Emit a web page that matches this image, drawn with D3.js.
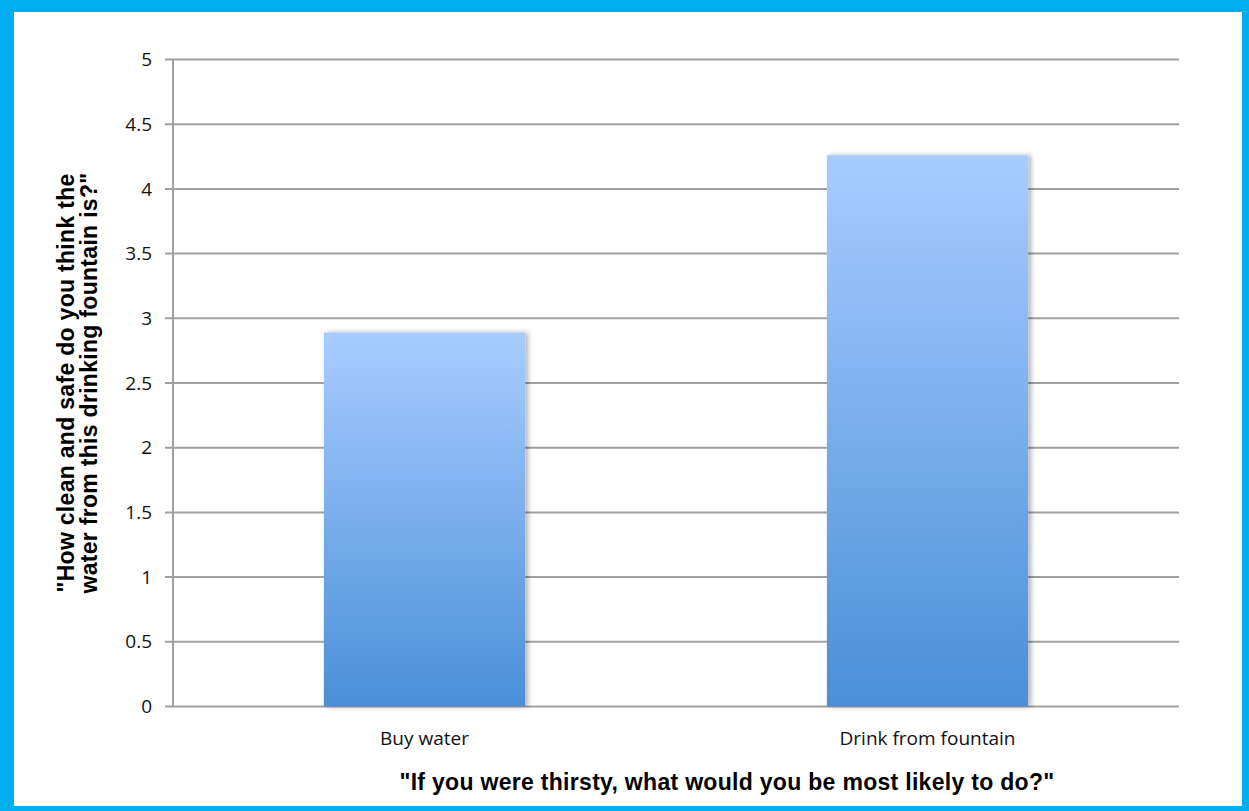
<!DOCTYPE html>
<html>
<head>
<meta charset="utf-8">
<script src="https://cdn.jsdelivr.net/npm/d3@7"></script>
<style>
  html, body { margin: 0; padding: 0; background: #00aeef; }
  svg { display: block; }
</style>
</head>
<body>
<div id="chart"></div>
<script>
// data
const categories = ['Buy water', 'Drink from fountain'];
const values = [2.89, 4.26];
const yTicks = [0, 0.5, 1, 1.5, 2, 2.5, 3, 3.5, 4, 4.5, 5];
const xTitle = '"If you were thirsty, what would you be most likely to do?"';
const yTitleLines = ['"How clean and safe do you think the', 'water from this drinking fountain is?"'];

const width = 1249, height = 811;
const margin = { left: 173, right: 70, top: 59.5, bottom: 104.5 };

const svg = d3.select('#chart')
  .append('svg')
  .attr('width', width)
  .attr('height', height);

// blue frame + white panel
svg.append('rect').attr('width', width).attr('height', height).attr('fill', '#00aeef');
svg.append('rect')
  .attr('x', 14).attr('y', 12)
  .attr('width', 1242 - 14).attr('height', 806 - 12)
  .attr('fill', '#fff');

const defs = svg.append('defs');
const grad = defs.append('linearGradient')
  .attr('id', 'barGrad')
  .attr('x1', 0).attr('y1', 0).attr('x2', 0).attr('y2', 1);
grad.append('stop').attr('offset', '0%').attr('stop-color', '#a9ccff');
grad.append('stop').attr('offset', '100%').attr('stop-color', '#4a8fd7');

const shadow = defs.append('filter')
  .attr('id', 'shadow')
  .attr('x', '-10%').attr('y', '-10%').attr('width', '130%').attr('height', '120%');
shadow.append('feDropShadow')
  .attr('dx', 3).attr('dy', 0)
  .attr('stdDeviation', 2.5)
  .attr('flood-color', '#000')
  .attr('flood-opacity', 0.3);

const x = d3.scaleBand()
  .domain(categories)
  .range([margin.left, width - margin.right])
  .paddingInner(0.6)
  .paddingOuter(0.3);

const y = d3.scaleLinear()
  .domain([0, 5])
  .range([height - margin.bottom, margin.top]);

// grid lines with tick stubs
svg.append('g')
  .selectAll('line')
  .data(yTicks)
  .enter()
  .append('line')
  .attr('x1', margin.left - 8)
  .attr('x2', width - margin.right)
  .attr('y1', d => y(d))
  .attr('y2', d => y(d))
  .attr('stroke', '#a0a0a0')
  .attr('stroke-width', 2);

// y axis line
svg.append('line')
  .attr('x1', margin.left).attr('x2', margin.left)
  .attr('y1', y(5)).attr('y2', y(0))
  .attr('stroke', '#a0a0a0')
  .attr('stroke-width', 2);

// tick labels
svg.append('g')
  .selectAll('text')
  .data(yTicks)
  .enter()
  .append('text')
  .attr('x', margin.left - 21)
  .attr('y', d => y(d))
  .attr('dy', '0.35em')
  .attr('text-anchor', 'end')
  .style('font-family', '"Open Sans", sans-serif')
  .style('font-size', '19px')
  .style('fill', '#111')
  .text(d => d);

// bars
svg.append('g')
  .selectAll('rect')
  .data(values)
  .enter()
  .append('rect')
  .attr('x', (d, i) => x(categories[i]))
  .attr('y', d => y(d))
  .attr('width', x.bandwidth())
  .attr('height', d => y(0) - y(d))
  .attr('fill', 'url(#barGrad)')
  .attr('filter', 'url(#shadow)');

// category labels
svg.append('g')
  .selectAll('text')
  .data(categories)
  .enter()
  .append('text')
  .attr('x', d => x(d) + x.bandwidth() / 2)
  .attr('y', 745)
  .attr('text-anchor', 'middle')
  .style('font-family', '"Open Sans", sans-serif')
  .style('font-size', '19px')
  .style('fill', '#111')
  .text(d => d);

// x title
svg.append('text')
  .attr('x', 727)
  .attr('y', 790)
  .attr('text-anchor', 'middle')
  .style('font-family', '"Liberation Sans", Arial, sans-serif')
  .style('font-weight', 'bold')
  .style('font-size', '23px')
  .style('letter-spacing', '0.3px')
  .style('fill', '#000')
  .text(xTitle);

// y title, two lines rotated
const yTitle = svg.append('text')
  .attr('transform', 'translate(74,383) rotate(-90)')
  .attr('text-anchor', 'middle')
  .style('font-family', '"Liberation Sans", Arial, sans-serif')
  .style('font-weight', 'bold')
  .style('font-size', '23px')
  .style('letter-spacing', '0.3px')
  .style('fill', '#000');
yTitleLines.forEach((line, i) => {
  yTitle.append('tspan')
    .attr('x', 0)
    .attr('dy', i === 0 ? 0 : 23)
    .text(line);
});
</script>
</body>
</html>
